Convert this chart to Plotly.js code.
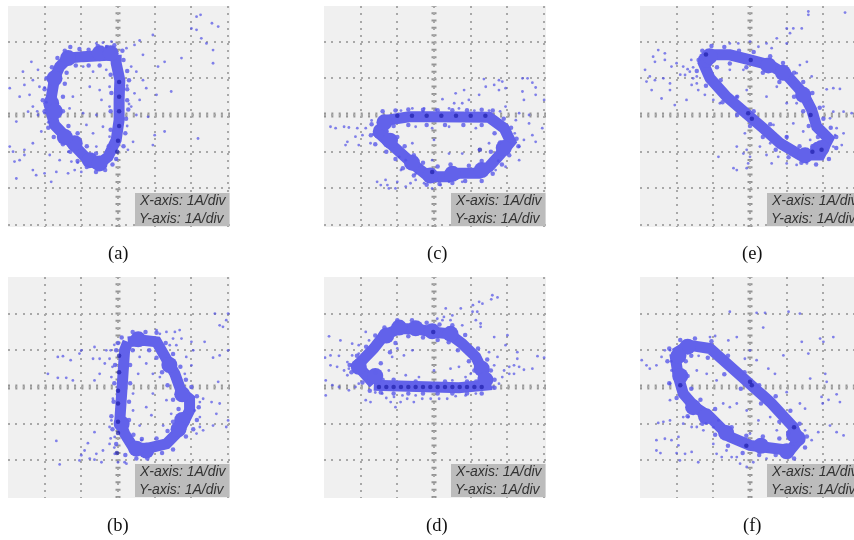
<!DOCTYPE html>
<html><head><meta charset="utf-8">
<script src="https://cdn.plot.ly/plotly-3.0.1.min.js"></script>
<style>
html,body{margin:0;padding:0;background:#fff;overflow:hidden;width:854px;height:540px}
#g{width:862px;height:540px}
.scatterlayer{filter:blur(0.6px)}
.gridlayer,.shapelayer{filter:blur(0.4px)}
</style></head><body><div id="g"></div>
<script>
const panelLabels=['(a)','(c)','(e)','(b)','(d)','(f)'];
const scaleX='X-axis: 1A/div', scaleY='Y-axis: 1A/div';
const gridVals=[-3,-2,-1,0,1,2,3];

const aRing=[[-0.05,1.64],[-0.5,1.64],[-0.95,1.59],[-1.36,1.55],[-1.59,1.32],[-1.73,1],[-1.82,0.41],[-1.86,0.23],[-1.73,-0.27],[-1.45,-0.55],[-1.18,-0.82],[-0.86,-1.18],[-0.55,-1.36],[-0.27,-1.14],[-0.05,-0.68],[0.03,-0.14],[0.03,0.41],[0.05,0.95],[-0.05,1.41],[-0.05,1.64]];
const aBlob=[[-1.82,0.32],[-1.73,1.0],[-1.36,1.55],[-0.5,1.68],[-0.2,1.68],[-1.18,-0.77],[-0.77,-1.23],[-0.5,-1.32],[-1.72,0.1],[-1.45,-0.6]];
const aDark=[[0.03,0.9],[0.03,0.5],[0.03,0.1],[0.03,-0.3],[0.0,-0.7],[-0.02,-1.0]];
const aEdge=[[-1.3,1.85],[-1.05,1.8],[-0.8,1.78],[-0.55,1.88],[-0.3,1.85],[-0.1,1.9],[0.12,1.75],[0.15,1.5],[0.25,1.2],[0.3,0.95],[0.25,0.7],[0.25,0.4],[0.28,0.15],[0.22,-0.1],[0.2,-0.5],[0.15,-0.85],[-0.05,-1.2],[-0.15,-1.35],[-0.35,-1.5],[-0.6,-1.55],[-0.85,-1.42],[-1.1,-1.25],[-1.3,-1.0],[-1.5,-0.8],[-1.75,-0.6],[-1.9,-0.35],[-2.0,0.1],[-2.05,0.4],[-2.0,0.7],[-1.95,1.0],[-1.8,1.3],[-1.65,1.55],[-1.45,1.75],[-1.15,1.35],[-1.4,1.15],[-1.45,0.85],[-1.5,0.5],[-1.5,0.1],[-1.35,-0.3],[-1.1,-0.5],[-0.85,-0.85],[-0.6,-1.05],[-0.25,-0.85],[-0.2,-0.4],[-0.2,0.1],[-0.18,0.6],[-0.2,1.1],[-0.5,1.35],[-0.8,1.35]];
const aDots=[[2,2.36],[2.14,2.68],[2.25,2.73],[2.56,2.5],[2.73,2.41],[2.14,2.32],[2.27,2.09],[2.41,1.95],[2.59,1.77],[2.59,1.41],[0.95,2.18],[0.59,2.03],[0.23,1.82],[0.45,1.91],[1.27,1.45],[1.73,1.55],[1.09,1.32],[0.68,1.64],[0.36,1.32],[0.5,1.18],[0.68,0.95],[1.45,0.64],[1.05,0.55],[0.77,0.73],[0.45,0.59],[0.59,0.41],[0.36,0.23],[0.82,-0.05],[0.5,0],[1.27,-0.45],[1,-0.55],[0.41,-0.73],[2.18,-0.64],[0.95,-0.82],[0.27,-0.95],[-2.95,0.73],[-2.59,1.18],[-2.36,1.45],[-2.18,1.23],[-2.32,0.95],[-2.55,0.82],[-2.68,0.5],[-2.41,0.55],[-2.14,0.77],[-2.32,0.23],[-2.45,0.09],[-2.18,0],[-2.77,-0.18],[-2.09,-0.45],[-2.32,-0.77],[-2.55,-0.95],[-2.86,-1],[-2.95,-0.86],[-2.68,-1.23],[-2.82,-1.27],[-2.55,-1.09],[-2.77,-1.73],[-2.32,-1.5],[-2.23,-1.64],[-2,-1.59],[-1.82,-1.82],[-1.68,-1.55],[-1.36,-1.59],[-1.18,-1.5],[-1.86,-1.09],[-1.59,-1.23],[-1.27,-1.27],[-1,-1.55],[-0.95,1.32],[-0.68,1.18],[-0.32,1.23],[-0.5,0.68],[-0.23,0.77],[-0.45,0.41],[-0.77,0.77],[-1.23,0.5],[-1.32,0.18],[-0.95,0.05],[-0.59,0],[-0.23,0.23],[-0.68,-0.5],[-0.41,-0.32],[-0.23,-0.59],[-0.86,-0.27],[-0.59,-0.86],[-0.59,1.95],[-0.41,1.97],[-0.18,2],[-0.32,1.86],[-2.2,0.1],[-2.0,0.05],[-1.95,0.35],[-2.0,0.75],[-1.9,-0.2],[-1.35,-1.0],[-1.1,-1.3],[0.25,0.8],[0.3,0.3],[0.25,-0.3]];

const bRing=[[0.27,1.23],[0.68,1.27],[1.05,1.23],[1.32,0.82],[1.55,0.36],[1.73,-0.14],[1.95,-0.32],[1.95,-0.64],[1.82,-0.91],[1.68,-1.18],[1.32,-1.55],[0.77,-1.68],[0.41,-1.64],[0.18,-1.27],[0.05,-0.91],[0.09,-0.45],[0.12,0.09],[0.14,0.64],[0.18,1],[0.27,1.23]];
const bBlob=[[0.55,1.3],[0.77,-1.73],[0.5,-1.68],[1.75,-0.9],[1.65,-1.15],[1.75,-0.2],[1.4,0.6],[0.1,-1.0]];
const bDark=[[0.03,0.85],[0.03,0.4],[0.0,-0.1],[0.0,-0.45],[0.0,-0.95],[0.0,-1.25],[-0.03,-1.8]];
const bEdge=[[0.0,1.2],[0.1,1.35],[0.4,1.5],[0.75,1.5],[1.05,1.48],[1.3,1.2],[1.5,0.9],[1.7,0.55],[1.85,0.2],[2.0,0.0],[2.15,-0.25],[2.2,-0.55],[2.15,-0.9],[2.05,-1.15],[1.85,-1.35],[1.5,-1.7],[1.2,-1.8],[0.8,-1.95],[0.5,-1.95],[0.2,-1.85],[-0.05,-1.55],[-0.15,-1.15],[-0.18,-0.8],[-0.12,-0.4],[-0.1,0.1],[-0.08,0.6],[-0.05,1.0],[0.4,1.0],[0.85,1.0],[1.05,0.8],[1.2,0.4],[1.35,0.05],[1.5,-0.35],[1.65,-0.6],[1.5,-0.95],[1.35,-1.2],[1.05,-1.4],[0.65,-1.42],[0.42,-1.3],[0.3,-0.9],[0.3,-0.4],[0.33,0.1],[0.33,0.6]];
const bDots=[[2.64,2],[3,2],[2.95,1.82],[2.77,1.68],[2.86,1.64],[3,1],[2.59,0.8],[2.77,0.86],[2.36,1.23],[2,1.23],[1.68,1.55],[1.55,1.5],[1.32,1.5],[1.05,1.55],[1.14,1.45],[1.5,1.32],[1.73,1.32],[1.41,1.14],[1.59,1.14],[1.86,0.82],[2,0.59],[2.05,1],[1.82,0.36],[2.73,0.14],[2.32,-0.32],[2.23,-0.41],[2.55,-0.41],[2.77,-0.45],[2.68,-0.73],[2.23,-0.82],[3,-0.91],[2.95,-1.09],[2.59,-1.05],[2.23,-1.09],[2.32,-1.18],[2.14,-1.27],[2.09,-0.64],[-1,1],[-1.64,0.82],[-1.5,0.84],[-1.29,0.73],[-1.05,0.91],[-0.64,1.09],[-0.68,0.77],[-0.5,0.77],[-0.32,1],[-0.23,0.77],[-0.36,0.64],[-1.91,0.36],[-1.64,0.25],[-1.41,0.25],[-1.23,0.18],[-0.5,0.36],[-0.64,0.18],[-0.18,0.27],[-0.14,-0.32],[-0.23,-1.09],[-0.64,-1.23],[-1.68,-1.47],[-0.82,-1.53],[-0.91,-1.73],[-1,-1.86],[-1.05,-2],[-1.59,-2.11],[-0.77,-1.95],[-0.59,-1.82],[-0.64,-1.98],[-0.45,-2.05],[-0.41,-1.73],[-0.23,-1.55],[-0.09,-1.82],[0,-2.05],[0.18,-2.05],[0.23,-2.09],[-0.09,-1.36],[-0.18,-0.91],[0.59,0.82],[0.77,0.64],[0.95,0.36],[0.55,0.36],[0.41,-0.18],[0.77,-0.55],[0.95,-0.18],[0.91,-0.77],[1.32,-0.36],[1.45,-0.73],[1.23,-1.05],[0.59,-1.05],[1.14,0.27],[0.41,-0.64],[0.64,-1.45],[-0.15,0.55],[-0.2,1.0],[-0.1,1.15],[-0.2,-1.4],[-0.1,-1.65]];

const cRing=[[-1.27,-0.14],[-0.68,-0.05],[-0.05,-0.05],[0.68,-0.06],[1.5,-0.06],[1.91,-0.36],[2.09,-0.73],[1.82,-1.05],[1.5,-1.41],[1.23,-1.59],[0.68,-1.59],[0.41,-1.68],[-0.14,-1.68],[-0.55,-1.36],[-0.86,-1.09],[-1.18,-0.77],[-1.5,-0.5],[-1.27,-0.14]];
const cBlob=[[-1.45,-0.45],[-0.6,-1.3],[-0.1,-1.65],[0.5,-1.6],[1.3,-1.5],[1.9,-0.9],[-1.2,-0.7],[-1.35,-0.2]];
const cDark=[[-1.0,-0.02],[-0.6,-0.02],[-0.2,-0.02],[0.2,-0.02],[0.6,-0.02],[1.0,-0.02],[1.4,-0.02],[-0.05,-1.55],[1.25,-0.95]];
const cEdge=[[-1.4,0.1],[-1.05,0.12],[-0.7,0.15],[-0.3,0.14],[0.1,0.13],[0.5,0.13],[0.9,0.13],[1.3,0.14],[1.6,0.12],[1.9,-0.1],[2.1,-0.35],[2.25,-0.65],[2.3,-0.85],[2.05,-1.1],[1.85,-1.35],[1.6,-1.6],[1.3,-1.8],[0.85,-1.8],[0.5,-1.85],[0.15,-1.88],[-0.2,-1.9],[-0.55,-1.65],[-0.85,-1.45],[-1.05,-1.2],[-1.3,-1],[-1.6,-0.8],[-1.72,-0.55],[-1.7,-0.25],[-1.1,-0.3],[-0.7,-0.27],[-0.2,-0.27],[0.3,-0.27],[0.8,-0.27],[1.3,-0.27],[1.65,-0.5],[1.8,-0.75],[1.55,-1],[1.3,-1.25],[0.95,-1.38],[0.45,-1.35],[0.1,-1.4],[-0.3,-1.3],[-0.55,-1.1],[-0.8,-0.85],[-1.0,-0.6]];
const cDots=[[1.36,0.98],[1.77,0.95],[1.86,0.91],[2.41,1],[2.68,0.88],[2.55,1],[1.64,0.82],[1.77,0.68],[1.95,0.73],[1.41,0.77],[2.77,0.75],[2.77,0.55],[2.41,0.64],[2.45,0.41],[3,0.41],[0.82,0.68],[0.59,0.59],[1.23,0.55],[0.95,0.41],[0.77,0.32],[0.55,0.32],[0.23,0.43],[0.68,0.18],[0.41,0.18],[-0.27,0.18],[-0.59,0.18],[0.05,0.14],[1.95,0.23],[2.32,0.05],[2.23,-0.14],[2.59,-0.23],[2.95,-0.36],[2.68,-0.55],[2.45,-0.68],[2.77,-0.73],[2.32,-0.86],[2.32,-1.23],[1.95,-1.41],[1.68,-1.5],[2.59,0],[-2.82,-0.32],[-2.68,-0.36],[-2.45,-0.32],[-2.32,-0.34],[-2.09,-0.36],[-1.86,-0.36],[-2.14,-0.59],[-2.36,-0.73],[-2.41,-0.82],[-2.05,-0.82],[-1.95,-0.55],[-1.73,-0.77],[-1.55,-1.82],[-1.32,-1.77],[-1.45,-1.91],[-1.23,-2],[-1,-1.82],[-0.77,-1.95],[-0.64,-1.86],[-1.05,-2],[-1.27,-1.91],[-0.5,-1.77],[-0.27,-1.86],[-0.05,-2],[0.18,-1.91],[0.41,-1.82],[0.77,-1.82],[-0.77,-1.23],[-0.95,-1.14],[-0.5,-0.32],[-0.05,-0.36],[0.41,-0.32],[1.14,-0.36],[-0.59,-0.77],[0,-0.68],[0.41,-1.05],[0.77,-1.05],[1.23,-0.95],[1.5,-0.77],[-0.05,-1.23],[-0.3,0.1],[-0.9,0.12],[1.1,0.12],[1.5,0.12],[1.8,0.1],[-0.9,-1.5],[-0.5,-1.6],[1.75,-1.25],[2.2,-0.5],[-1.7,-0.15]];

const dRing=[[-1.64,0.09],[-1.86,0.32],[-2.09,0.59],[-1.64,1.05],[-1.36,1.41],[-0.95,1.59],[-0.5,1.59],[-0.05,1.5],[0.41,1.45],[0.77,1.18],[1.14,0.82],[1.32,0.45],[1.41,0.05],[0.68,-0.02],[-0.05,-0.02],[-0.86,-0.02],[-1.64,0.05]];
const dBlob=[[-0.5,1.6],[-0.05,1.52],[0.45,1.45],[1.3,0.5],[1.4,0.2],[-1.6,0.3],[-2.05,0.55],[-1.3,1.4],[-0.95,1.62]];
const dDark=[[-1.5,0],[-1.3,0],[-1.1,0],[-0.9,0],[-0.7,0],[-0.5,0],[-0.3,0],[-0.1,0],[0.1,0],[0.3,0],[0.5,0],[0.7,0],[0.9,0],[1.1,0],[1.3,0],[-0.02,1.5]];
const dEdge=[[-1.75,-0.1],[-1.95,0.12],[-2.25,0.4],[-2.3,0.6],[-2.1,0.85],[-1.85,1.1],[-1.6,1.4],[-1.35,1.62],[-1.0,1.82],[-0.6,1.82],[-0.2,1.75],[0.15,1.7],[0.5,1.68],[0.85,1.42],[1.2,1.05],[1.45,0.75],[1.55,0.45],[1.65,0.2],[1.65,-0.02],[1.3,-0.18],[0.9,-0.18],[0.5,-0.18],[0.1,-0.18],[-0.3,-0.18],[-0.7,-0.18],[-1.1,-0.18],[-1.45,-0.15],[-1.6,0.4],[-1.45,0.65],[-1.2,0.95],[-1.05,1.2],[-0.7,1.38],[-0.3,1.35],[0.1,1.28],[0.4,1.22],[0.65,1.0],[0.95,0.7],[1.1,0.45],[1.15,0.15],[-1.4,0.2],[-1.1,0.2],[-0.5,0.15],[0.3,0.15],[0.9,0.15]];
const dDots=[[1.59,2.5],[1.56,2.39],[1.73,2.44],[1.32,2.27],[1.06,2.23],[1.23,2.32],[1.05,2.05],[1.18,2.05],[0.73,2.14],[0.32,2.14],[0.5,1.95],[0.27,1.91],[0.09,1.86],[0.45,1.82],[0.77,1.68],[1.27,1.73],[1.14,1.82],[1.27,1.64],[0.23,1.82],[1.64,1.36],[2,1.41],[1.95,1.14],[2.27,0.95],[2.82,0.84],[3,0.8],[2.27,0.77],[2.05,0.55],[2.18,0.59],[2.32,0.55],[2.45,0.47],[2.68,0.5],[2.05,0.36],[1.91,0.45],[2.18,0.36],[1.86,0.27],[1.64,0.59],[1.73,0.82],[1.5,0.95],[1.77,0.09],[1.59,0],[-2.86,1.38],[-2.97,0.8],[-2.82,0.86],[-2.59,0.85],[-2.55,1.27],[-2.23,1.18],[-2.05,1.14],[-1.86,1.5],[-1.77,1.27],[-2.23,0.86],[-2.05,0.91],[-2.36,0.68],[-2.45,0.45],[-2.36,0.32],[-2.82,0.59],[-2.64,0.55],[-2.32,0.5],[-2.95,0.18],[-2.77,0.05],[-2.59,0],[-2.32,-0.09],[-2.05,0.09],[-2.95,-0.23],[-2.14,0],[-1.86,-0.36],[-1.73,-0.41],[-1.18,-0.41],[-1.05,-0.55],[-0.91,-0.41],[-0.73,-0.32],[-0.55,-0.41],[-0.32,-0.32],[-0.09,-0.32],[0.14,-0.32],[0.36,-0.32],[0.59,-0.25],[-1.09,-0.27],[-0.5,-0.23],[-1.41,-0.18],[-0.86,-0.23],[0.86,-0.23],[1.14,-0.18],[-1.14,0.82],[-0.59,1],[-0.82,0.86],[-1.23,0.45],[-0.77,0.32],[-0.41,0.27],[0.45,0.5],[0.68,0.55],[0.86,0.27],[0.5,0.18],[0,0.45],[1,0.36],[-1,1.05],[-1.6,-0.15],[-1.3,-0.3]];

const eRing=[[-1.14,1.64],[-0.55,1.64],[0,1.5],[0.55,1.36],[1,1.09],[1.45,0.59],[1.68,0.14],[1.82,-0.32],[2.14,-0.64],[1.91,-1.09],[1.36,-1.09],[0.82,-0.77],[0.36,-0.36],[-0.18,0.09],[-0.64,0.5],[-1.09,1],[-1.27,1.41],[-1.14,1.64]];
const eBlob=[[-1.2,1.5],[-1.1,1.6],[0.5,1.35],[0.9,1.15],[1.45,0.55],[1.85,-0.95],[1.5,-1.1],[1.95,-0.9]];
const eDark=[[0.02,1.5],[-0.05,0.05],[0.05,-0.1],[1.65,0],[1.7,-1.0],[1.95,-0.95],[-1.2,1.65]];
const eEdge=[[-1.4,1.5],[-1.3,1.75],[-1.05,1.88],[-0.7,1.85],[-0.3,1.75],[0.1,1.72],[0.55,1.6],[0.9,1.42],[1.2,1.15],[1.45,0.9],[1.7,0.6],[1.9,0.2],[2.0,-0.1],[2.2,-0.35],[2.35,-0.6],[2.35,-0.9],[2.15,-1.2],[1.8,-1.35],[1.4,-1.3],[1.05,-1.15],[0.7,-0.95],[0.35,-0.6],[0,-0.3],[-0.35,0.0],[-0.75,0.35],[-1.2,0.8],[-1.45,1.2],[-0.9,1.3],[-0.55,1.4],[-0.1,1.3],[0.35,1.15],[0.8,0.9],[1.2,0.5],[1.45,0.1],[1.6,-0.3],[1.85,-0.6],[1.7,-0.85],[1.35,-0.85],[1.0,-0.6],[0.55,-0.25],[0.1,0.1],[-0.35,0.5],[-0.8,0.95]];
const eDots=[[1.59,2.82],[1.59,2.73],[2.59,2.79],[1,2.36],[1.18,2.36],[1.09,2.23],[1.41,2.36],[0.73,2.09],[1,1.95],[0.45,1.95],[0.59,1.82],[0.23,1.86],[0,2],[-0.55,1.95],[-0.32,1.95],[1.55,1.45],[1.36,1.36],[1.27,1.14],[1.68,1.05],[2.27,0.73],[2.45,0.71],[2.09,0.7],[2,0.23],[2.27,0.09],[2.55,0.09],[2.77,0.05],[2.18,-0.09],[2.36,-0.36],[2.55,-0.5],[2.27,-0.86],[2.5,-0.82],[2.32,-0.55],[-2.86,1.23],[-2.82,0.91],[-2.64,1.59],[-2.59,1.45],[-2.32,1.68],[-2.32,1.5],[-2.5,1.77],[-2,1.41],[-2.14,1.32],[-1.82,1.32],[-2.73,1.05],[-2.59,0.95],[-2.36,1],[-2.18,0.86],[-2.68,0.68],[-2.41,0.45],[-2.18,0.68],[-2.05,0.27],[-1.73,0.41],[-1.77,1.09],[-1.64,1.18],[-1.55,1],[-1.59,0.82],[-1.41,0.68],[-1.23,0.55],[-1,0.41],[-1.45,0.86],[-0.82,0.32],[-0.86,-1.14],[-0.36,-0.86],[-0.14,-0.5],[-0.09,-0.95],[-0.18,-1.05],[0,-1.14],[-0.05,-1.32],[-0.09,-1.45],[-0.45,-1.45],[-0.36,-1.5],[0.45,-1.09],[0.59,-1.32],[0.77,-1.14],[1,-1.32],[1.27,-1.36],[1.55,-1.32],[0.27,-0.86],[0.55,-0.77],[-0.55,1.23],[-0.18,1.23],[-0.09,0.68],[-0.36,0.5],[0.45,0.5],[0.73,0.77],[1,0.32],[1.27,0.32],[0.64,-0.27],[1.18,-0.23],[1.45,-0.45],[1.64,-0.68],[1,-0.59],[-1.7,1.25],[-1.6,1.5],[-1.55,1.3],[-1.45,1.05],[-1.9,1.1]];

const fRing=[[-2.05,0.91],[-1.68,1.14],[-1.09,1.05],[-0.55,0.59],[0,0.14],[0.55,-0.41],[1.18,-1.09],[1.32,-1.45],[1.09,-1.73],[0.55,-1.64],[0,-1.59],[-0.55,-1.36],[-1.09,-0.82],[-1.5,-0.55],[-1.82,-0.18],[-1.95,0.27],[-2.05,0.91]];
const fBlob=[[-1.7,1.1],[-1.9,0.3],[-1.55,-0.55],[-0.65,-1.25],[0.3,-1.6],[1.3,-1.4],[1.2,-1.3],[-1.2,-0.8],[1,-1.75],[-1.95,0.85]];
const fDark=[[0,0.14],[0.05,0.05],[-1.9,0.05],[-0.1,-1.6],[1.2,-1.1]];
const fEdge=[[-2.25,0.7],[-2.2,1.05],[-1.9,1.28],[-1.5,1.32],[-1.05,1.25],[-0.6,0.85],[-0.15,0.4],[0.25,0.05],[0.7,-0.25],[1.1,-0.65],[1.35,-1.0],[1.55,-1.35],[1.5,-1.65],[1.2,-1.95],[0.7,-1.85],[0.25,-1.85],[-0.2,-1.8],[-0.6,-1.6],[-0.95,-1.3],[-1.3,-1.0],[-1.7,-0.8],[-2.0,-0.3],[-2.2,0.1],[-1.75,0.7],[-1.6,0.85],[-1.15,0.8],[-0.7,0.35],[-0.25,-0.05],[0.3,-0.45],[0.8,-0.95],[1.05,-1.25],[0.8,-1.4],[0.35,-1.35],[-0.1,-1.33],[-0.5,-1.1],[-0.95,-0.6],[-1.35,-0.35],[-1.6,-0.05],[-1.7,0.3]];
const fDots=[[-0.55,2.05],[0.18,2.02],[0.41,2.02],[1.05,2.05],[1.36,2],[0.36,1.62],[1.91,1.32],[2,1.23],[2.27,1.36],[1.41,1.23],[-1.09,1.36],[-0.95,1.39],[-0.59,1.27],[-0.36,1.36],[0.91,0.86],[1.59,0.91],[0,1],[0.18,0.73],[-0.14,0.77],[0.5,0.5],[0.68,0.36],[2.05,0.36],[2.09,0.14],[1.64,0.23],[1.95,-0.27],[1.98,-0.45],[2.14,-0.35],[2.36,-0.2],[2.45,-0.41],[1,-0.14],[1.36,-0.45],[1.5,-0.59],[2.18,-1.05],[2.36,-1.23],[2.55,-1.32],[1.86,-1.23],[1.68,-1.45],[1.5,-1.18],[-2.95,0.73],[-2.82,0.59],[-2.73,0.5],[-2.55,0.59],[-2.41,0.82],[-2.32,1],[-2.18,1],[-2.14,0.45],[-2.18,0.09],[-2.18,-0.36],[-2.5,-0.98],[-2.36,-0.95],[-2.18,-0.91],[-2.55,-1.45],[-2.32,-1.41],[-2.14,-1.45],[-2.55,-1.73],[-2.44,-1.8],[-1.95,-1.36],[-1.95,-1.59],[-2,-1.8],[-1.77,-1.82],[-1.59,-1.77],[-1.91,-2],[-1.41,-2.05],[-1.82,-1],[-1.68,-0.82],[-1.59,-1.09],[-1.82,-0.82],[-1.45,-1.09],[-1.27,-1.18],[-1,-1.55],[-0.91,-1.82],[-0.77,-1.91],[-0.5,-1.91],[-0.27,-2.09],[-0.09,-2.18],[0.09,-2.05],[-0.64,-1.73],[-0.36,-1.91],[0.45,-1.95],[-1.45,0.45],[-1.18,0.36],[-0.91,0.18],[-0.73,-0.45],[-0.36,-0.45],[-0.09,-0.64],[0.23,-0.91],[0.55,-0.82],[-0.55,-0.55],[-0.86,-0.91],[0.73,-1.18],[0,-1.27],[-1.4,0.85],[-1.2,-1.0],[-1.0,-1.1],[-2.15,0.7]];

const panels=[
 {ring:aRing,blob:aBlob,dark:aDark,edge:aEdge,dots:aDots},
 {ring:cRing,blob:cBlob,dark:cDark,edge:cEdge,dots:cDots},
 {ring:eRing,blob:eBlob,dark:eDark,edge:eEdge,dots:eDots},
 {ring:bRing,blob:bBlob,dark:bDark,edge:bEdge,dots:bDots},
 {ring:dRing,blob:dBlob,dark:dDark,edge:dEdge,dots:dDots},
 {ring:fRing,blob:fBlob,dark:fDark,edge:fEdge,dots:fDots}];

const W=862,H=540,DIV=36.7,BAND='#6262ea';
const lefts=[8,324,640], rows=[{top:6,bot:227,mid:115},{top:277,bot:498,mid:387}];
const fig={data:[],layout:{width:W,height:H,margin:{l:0,r:0,t:0,b:0},paper_bgcolor:'#fff',plot_bgcolor:'#f0f0f0',showlegend:false,shapes:[],annotations:[],font:{family:'Liberation Sans'}}};
const px=(x)=>x/W, py=(y)=>1-y/H;
panels.forEach((p,i)=>{
  const col=i%3,row=rows[Math.floor(i/3)],L=lefts[col],R=L+222,n=i+1;
  const s=n===1?'':n, xa='x'+s, ya='y'+s;
  const cx=L+110;
  const ax={showticklabels:false,ticks:'',showline:false,zeroline:false,fixedrange:true,tickmode:'array',tickvals:gridVals,showgrid:true,gridcolor:'#a8a8a8',gridwidth:2,griddash:'2px,5.34px'};
  const xlo=(L-cx)/DIV,xhi=(R-cx)/DIV,ylo=(row.mid-row.bot)/DIV,yhi=(row.mid-row.top)/DIV;
  fig.layout['xaxis'+s]=Object.assign({},ax,{domain:[px(L),px(R)],range:[xlo,xhi],anchor:ya});
  fig.layout['yaxis'+s]=Object.assign({},ax,{domain:[py(row.bot),py(row.top)],range:[ylo,yhi],anchor:xa});
  fig.layout.shapes.push(
    {type:'line',xref:xa,yref:ya,x0:xlo,x1:xhi,y0:0,y1:0,layer:'below',line:{color:'#959595',width:5,dash:'2px,5.34px'}},
    {type:'line',xref:xa,yref:ya,x0:0,x1:0,y0:ylo,y1:yhi,layer:'below',line:{color:'#959595',width:5,dash:'2px,5.34px'}},
    {type:'rect',xref:'paper',yref:'paper',x0:px(L+127),x1:px(L+221.5),y0:py(row.bot-1),y1:py(row.bot-34),layer:'above',fillcolor:'#bcbcbc',line:{width:0}}
  );
  [[scaleX,row.bot-27],[scaleY,row.bot-9]].forEach(([t,y])=>fig.layout.annotations.push({text:t,xref:'paper',yref:'paper',x:px(L+129),y:py(y),xanchor:'left',yanchor:'middle',showarrow:false,font:{family:'Liberation Sans',size:14,color:'#333',style:'italic'}}));
  fig.layout.annotations.push({text:panelLabels[i],xref:'paper',yref:'paper',x:px(L+(col===0?110:col===1?113:112)),y:py(row.bot+27),xanchor:'center',yanchor:'middle',showarrow:false,font:{family:'Liberation Serif',size:18.5,color:'#111'}});
  const xs=a=>a.map(q=>q[0]),ys=a=>a.map(q=>q[1]);
  fig.data.push({type:'scatter',mode:'lines',xaxis:xa,yaxis:ya,x:xs(p.ring),y:ys(p.ring),line:{color:BAND,width:11,shape:'linear'},hoverinfo:'skip'});
  fig.data.push({type:'scatter',mode:'markers',xaxis:xa,yaxis:ya,x:xs(p.blob),y:ys(p.blob),marker:{color:BAND,size:16},hoverinfo:'skip'});
  fig.data.push({type:'scatter',mode:'markers',xaxis:xa,yaxis:ya,x:xs(p.edge),y:ys(p.edge),marker:{color:'rgba(98,98,234,0.85)',size:4.5},hoverinfo:'skip'});
  fig.data.push({type:'scatter',mode:'markers',xaxis:xa,yaxis:ya,x:xs(p.dark),y:ys(p.dark),marker:{color:'rgba(30,30,170,0.7)',size:4.5},hoverinfo:'skip'});
  fig.data.push({type:'scatter',mode:'markers',xaxis:xa,yaxis:ya,x:xs(p.dots),y:ys(p.dots),marker:{color:'rgba(80,80,230,0.7)',size:2.8},hoverinfo:'skip'});
});
Plotly.newPlot('g',fig.data,fig.layout,{staticPlot:true,displayModeBar:false});
</script></body></html>
